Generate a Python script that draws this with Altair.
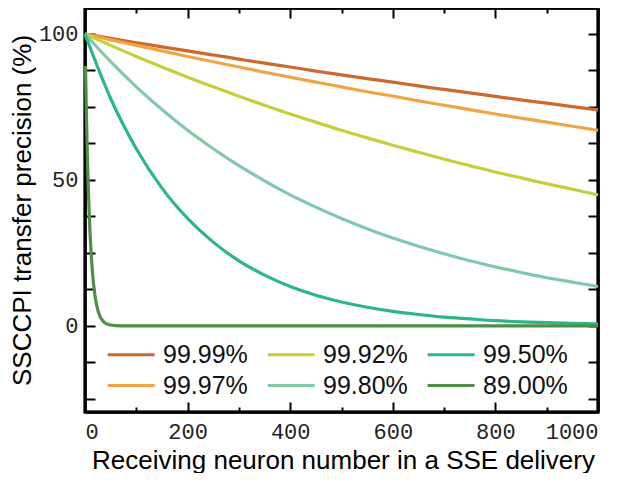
import altair as alt
import pandas as pd

# ---- data ----
n_main = list(range(0, 1001, 50))
prec_9999 = [100.0, 98.5, 97.0, 95.6, 94.2, 92.8, 91.4, 90.0, 88.7, 87.3, 86.0,
             84.7, 83.5, 82.2, 81.0, 79.8, 78.6, 77.4, 76.3, 75.1, 74.0]
prec_9997 = [100.0, 98.0, 96.1, 94.2, 92.3, 90.5, 88.7, 86.9, 85.2, 83.5, 81.9,
             80.2, 78.7, 77.1, 75.6, 74.1, 72.6, 71.2, 69.8, 68.4, 67.0]
prec_9992 = [100.0, 96.1, 92.3, 88.7, 85.2, 81.9, 78.7, 75.6, 72.6, 69.8, 67.0,
             64.4, 61.9, 59.5, 57.1, 54.9, 52.7, 50.7, 48.7, 46.8, 44.9]
prec_9980 = [100.0, 90.5, 81.9, 74.1, 67.0, 60.7, 54.9, 49.7, 44.9, 40.7, 36.8,
             33.3, 30.1, 27.3, 24.7, 22.3, 20.2, 18.3, 16.5, 15.0, 13.5]
prec_9950 = [100.0, 77.9, 60.7, 47.2, 36.8, 28.7, 22.3, 17.4, 13.5, 10.5, 8.2,
             6.4, 5.0, 3.9, 3.0, 2.4, 1.8, 1.4, 1.1, 0.9, 0.7]
n_fast = [1, 2, 3, 4, 5, 6, 7, 8, 10, 12, 14, 16, 18, 20, 25, 30, 35, 40, 50, 60,
          80, 100, 200, 400, 600, 800, 1000]
prec_8900 = [89.0, 79.2, 70.5, 62.7, 55.8, 49.7, 44.2, 39.4, 31.2, 24.7, 19.6,
             15.5, 12.3, 9.7, 5.4, 3.0, 1.7, 0.9, 0.3, 0.1, 0, 0, 0, 0, 0, 0, 0]

series_labels = ["99.99%", "99.97%", "99.92%", "99.80%", "99.50%", "89.00%"]
series_colors = ["#cc6a2c", "#f0a544", "#c5cf3c", "#82c9a7", "#2db58c", "#4f8f45"]

x_ticks = list(range(0, 1001, 100))
y_ticks = [-25, -12.5, 0, 12.5, 25, 37.5, 50, 62.5, 75, 87.5, 100]
y_domain = [-29.5, 108.9]
x_domain = [0, 1000]

rows = []
for lab, vals in zip(series_labels[:5], [prec_9999, prec_9997, prec_9992, prec_9980, prec_9950]):
    for n, v in zip(n_main, vals):
        rows.append({"n": n, "p": v, "s": lab})
for n, v in zip(n_fast, prec_8900):
    rows.append({"n": n, "p": v, "s": series_labels[5]})
df = pd.DataFrame(rows)

color = alt.Color(
    "s:N",
    scale=alt.Scale(domain=series_labels, range=series_colors),
    legend=alt.Legend(
        title=None, orient="none", legendX=18, legendY=334, columns=3,
        symbolType="M-1,0H5", symbolSize=245, symbolStrokeWidth=3,
        labelFont="Liberation Sans", labelFontSize=25, labelColor="#111",
        labelOffset=35, columnPadding=13, rowPadding=5, padding=0,
    ),
)

minor_dash = {"condition": {"test": "datum.value % 200 !== 0", "value": [0, 5, 5]},
              "value": [10, 0]}

common_axis = dict(
    offset=-10, tickSize=10, tickWidth=2, tickColor="black", domain=False,
    grid=False, labelFont="Liberation Mono", labelFontSize=22, labelColor="#222",
)
title_style = dict(titleFont="Liberation Sans", titleFontSize=26, titleColor="black",
                   titleFontWeight="normal")
frame_axis = dict(offset=0, domain=True, domainColor="black", domainWidth=2.5,
                  ticks=False, labels=False, grid=False, title=None)

x_scale = alt.Scale(domain=x_domain, nice=False, zero=False)
y_scale = alt.Scale(domain=y_domain, nice=False, zero=False)

x_bottom = alt.X(
    "n:Q", scale=x_scale,
    axis=alt.Axis(orient="bottom", values=x_ticks, format="d", tickDash=minor_dash,
                  labelExpr="datum.value % 200 === 0 ? datum.label : ''",
                  labelPadding=9, title="Receiving neuron number in a SSE delivery",
                  titleX=258, titleY=66, titleAlign="center", titleBaseline="alphabetic",
                  **common_axis, **title_style),
)
y_left = alt.Y(
    "p:Q", scale=y_scale,
    axis=alt.Axis(orient="left", values=y_ticks,
                  labelExpr="datum.value % 50 === 0 ? datum.label : ''",
                  labelPadding=7, title="SSCCPI transfer precision (%)",
                  titleAngle=270, titleX=-65, titleY=202, titleAlign="center",
                  titleBaseline="alphabetic", **common_axis, **title_style),
)

lines = alt.Chart(df).mark_line(strokeWidth=3.2, interpolate="monotone").encode(
    x=x_bottom, y=y_left, color=color, detail="s:N"
)

x_top = alt.X("n:Q", scale=x_scale,
              axis=alt.Axis(orient="top", values=x_ticks, labels=False, title=None,
                            tickDash=minor_dash, **common_axis))
y_right = alt.Y("p:Q", scale=y_scale,
                axis=alt.Axis(orient="right", values=y_ticks, labels=False, title=None,
                              **common_axis))
tick_axes = alt.Chart(df).mark_line(opacity=0).encode(x=x_top, y=y_right, detail="s:N")

# frame drawn as axis domain lines on all four sides
frame_bl = alt.Chart(df).mark_line(opacity=0).encode(
    x=alt.X("n:Q", scale=x_scale, axis=alt.Axis(orient="bottom", **frame_axis)),
    y=alt.Y("p:Q", scale=y_scale, axis=alt.Axis(orient="left", **frame_axis)),
    detail="s:N")
frame_tr = alt.Chart(df).mark_line(opacity=0).encode(
    x=alt.X("n:Q", scale=x_scale, axis=alt.Axis(orient="top", **frame_axis)),
    y=alt.Y("p:Q", scale=y_scale, axis=alt.Axis(orient="right", **frame_axis)),
    detail="s:N")

one = pd.DataFrame({"k": [0]})
frame_rect = alt.Chart(one).mark_rect(fill="transparent", stroke="black", strokeWidth=2.5).encode(
    x=alt.value(0), x2=alt.value("width"), y=alt.value(0), y2=alt.value("height"))

chart = alt.layer(frame_rect, lines, tick_axes, frame_bl, frame_tr).properties(
    width=513, height=404,
    autosize=alt.AutoSizeParams(type="none"),
    padding={"left": 77, "top": 0, "right": 24, "bottom": 61},
).configure(background="white").configure_view(stroke="black", strokeWidth=3)

chart.save("out.html", embed_options={"renderer": "svg", "actions": False})
